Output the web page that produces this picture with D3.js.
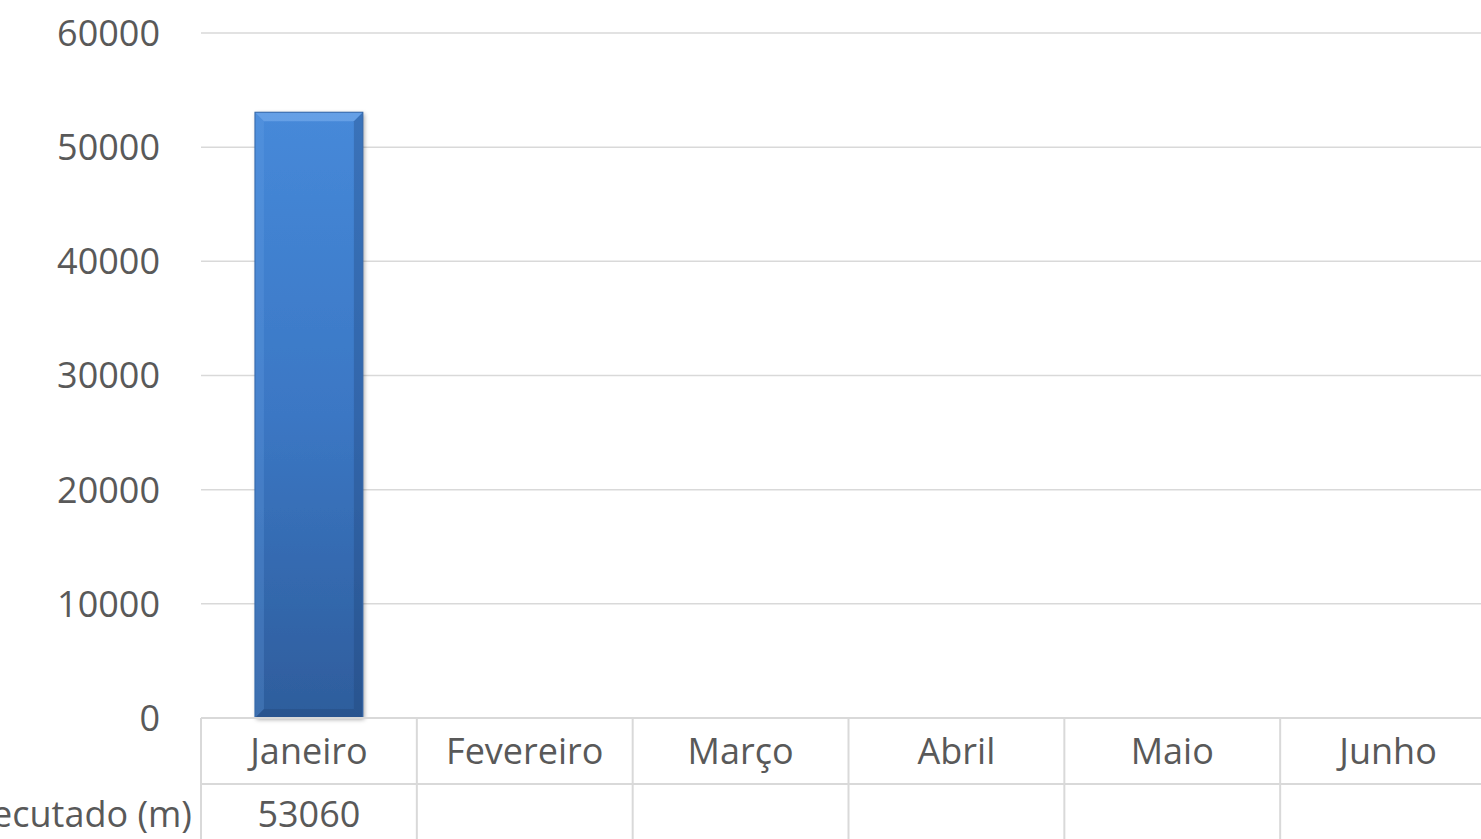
<!DOCTYPE html>
<html><head><meta charset="utf-8">
<script src="https://cdn.jsdelivr.net/npm/d3@7"></script>
<style>html,body{margin:0;padding:0;background:#fff;overflow:hidden}</style>
</head><body>
<svg id="c" width="1481" height="839"></svg>
<script>
const categories = ["Janeiro","Fevereiro","Março","Abril","Maio","Junho"];
const seriesName = "Executado (m)";
const values = [53060, null, null, null, null, null];
const yTicks = [0,10000,20000,30000,40000,50000,60000];

(function(){
const W=1481,H=839;
const pLeft=201, pRight=1496, pTop=33, pBottom=718, rowH=66;
const font="'Open Sans', 'Noto Sans', sans-serif";
const txt="#595959", grid="#d9d9d9";
const svg=d3.select("#c");
const x=d3.scaleBand().domain(categories).range([pLeft,pRight]).padding(0);
const y=d3.scaleLinear().domain([0,60000]).range([pBottom,pTop]);

const defs=svg.append("defs");
const g=defs.append("linearGradient").attr("id","bg").attr("x1",0).attr("y1",0).attr("x2",0).attr("y2",1);
g.append("stop").attr("offset","0%").attr("stop-color","#4689d9");
g.append("stop").attr("offset","50%").attr("stop-color","#3b77c4");
g.append("stop").attr("offset","100%").attr("stop-color","#2e5d9c");
const f=defs.append("filter").attr("id","sh").attr("x","-20%").attr("y","-5%").attr("width","140%").attr("height","110%");
f.append("feDropShadow").attr("dx",1.5).attr("dy",1.5).attr("stdDeviation",2).attr("flood-color","#000").attr("flood-opacity",0.35);

svg.append("g").selectAll("line").data(yTicks.filter(d=>d>0)).join("line")
 .attr("x1",pLeft).attr("x2",W).attr("y1",d=>y(d)).attr("y2",d=>y(d))
 .attr("stroke",grid).attr("stroke-width",1.5);

svg.append("g").selectAll("text").data(yTicks).join("text")
 .attr("x",160).attr("y",d=>y(d)).attr("dy","0.36em").attr("text-anchor","end")
 .attr("font-family",font).attr("font-size",36).attr("fill",txt).text(d=>d);

const bw=x.bandwidth()*0.5;
const bars=svg.append("g");
values.forEach((v,i)=>{
  if(v==null) return;
  const c=categories[i];
  const x0=x(c)+(x.bandwidth()-bw)/2, x1=x0+bw, y0=y(v), y1=y(0);
  const b=bars.append("g");
  b.append("rect").attr("x",x0).attr("y",y0).attr("width",bw).attr("height",y1-y0)
   .attr("fill","url(#bg)").attr("filter","url(#sh)");
  const s=9;
  const poly=(pts,fill,op)=>b.append("polygon").attr("points",pts.map(p=>p.join(",")).join(" ")).attr("fill",fill).attr("opacity",op);
  poly([[x0,y0],[x1,y0],[x1-s,y0+s],[x0+s,y0+s]],"#7fb3f0",0.55);
  poly([[x0,y0],[x0+s,y0+s],[x0+s,y1-s],[x0,y1]],"#6aa3e6",0.25);
  poly([[x1,y0],[x1,y1],[x1-s,y1-s],[x1-s,y0+s]],"#1d3f70",0.3);
  poly([[x0,y1],[x0+s,y1-s],[x1-s,y1-s],[x1,y1]],"#1d3f70",0.3);
  b.append("rect").attr("x",x0).attr("y",y0).attr("width",bw).attr("height",y1-y0)
   .attr("fill","none").attr("stroke","#3366a8").attr("stroke-width",1);
});

const t=svg.append("g");
t.append("line").attr("x1",pLeft).attr("x2",W).attr("y1",pBottom).attr("y2",pBottom).attr("stroke",grid).attr("stroke-width",2);
t.append("line").attr("x1",pLeft).attr("x2",W).attr("y1",pBottom+rowH).attr("y2",pBottom+rowH).attr("stroke",grid).attr("stroke-width",2);
t.selectAll("line.v").data(categories).join("line").attr("class","v")
 .attr("x1",d=>x(d)).attr("x2",d=>x(d)).attr("y1",pBottom).attr("y2",H)
 .attr("stroke",grid).attr("stroke-width",2);
t.selectAll("text.cat").data(categories).join("text").attr("class","cat")
 .attr("x",d=>x(d)+x.bandwidth()/2).attr("y",pBottom+rowH/2).attr("dy","0.36em").attr("text-anchor","middle")
 .attr("font-family",font).attr("font-size",36).attr("fill",txt).text(d=>d);
t.selectAll("text.val").data(values.map((v,i)=>({v,c:categories[i]})).filter(d=>d.v!=null)).join("text").attr("class","val")
 .attr("x",d=>x(d.c)+x.bandwidth()/2).attr("y",pBottom+rowH*1.45).attr("dy","0.36em").attr("text-anchor","middle")
 .attr("font-family",font).attr("font-size",36).attr("fill",txt).text(d=>d.v);
t.append("text").attr("x",192).attr("y",pBottom+rowH*1.45).attr("dy","0.36em").attr("text-anchor","end")
 .attr("font-family",font).attr("font-size",36).attr("fill",txt).text(seriesName);
})();
</script>
</body></html>
